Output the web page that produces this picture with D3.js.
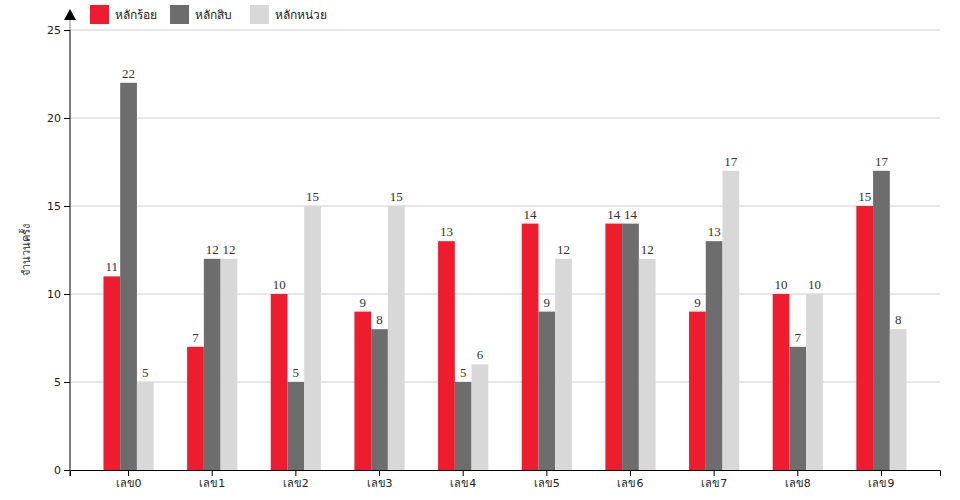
<!DOCTYPE html>
<html><head><meta charset="utf-8">
<script src="https://cdn.jsdelivr.net/npm/d3@7"></script>
<style>body{margin:0;background:#fff}svg{display:block}</style>
</head><body><svg id="c" width="960" height="500"></svg>
<script>
const categories = ["เลข0","เลข1","เลข2","เลข3","เลข4","เลข5","เลข6","เลข7","เลข8","เลข9"];
const seriesNames = ["หลักร้อย","หลักสิบ","หลักหน่วย"];
const hundreds = [11,7,10,9,13,14,14,9,10,15];
const tens = [22,12,5,8,5,9,14,13,7,17];
const units = [5,12,15,15,6,12,12,17,10,8];
const yTicks = [0,5,10,15,20,25];
const colors = ["#ed1c2e","#6d6d6d","#d8d8d8"];
const series = [hundreds, tens, units];

const svg = d3.select("#c");
const m = {l:70, r:940, t:30, b:470};
const x = d3.scaleBand().domain(categories).range([m.l, m.r]).padding(0.4);
const xs = d3.scaleBand().domain(d3.range(3)).range([0, x.bandwidth()]);
const y = d3.scaleLinear().domain([0,25]).range([m.b, m.t]);

// grid
svg.append("g").selectAll("line").data(yTicks.filter(d=>d>0)).join("line")
  .attr("x1", m.l).attr("x2", m.r).attr("y1", d=>y(d)).attr("y2", d=>y(d))
  .attr("stroke", "#d0d0d0").attr("stroke-width", 1);

// bars
const g = svg.append("g");
series.forEach((vals, si) => {
  g.append("g").selectAll("rect").data(vals).join("rect")
    .attr("x", (d,i)=>x(categories[i]) + xs(si))
    .attr("y", d=>y(d)).attr("width", xs.bandwidth()).attr("height", d=>y(0)-y(d))
    .attr("fill", colors[si]);
  g.append("g").selectAll("text").data(vals).join("text")
    .attr("x", (d,i)=>x(categories[i]) + xs(si) + xs.bandwidth()/2)
    .attr("y", d=>y(d)-5).attr("text-anchor","middle")
    .attr("font-family","Liberation Serif, serif").attr("font-size",13).attr("fill","#333")
    .text(d=>d);
});

// y axis
const ya = svg.append("g").attr("transform",`translate(${m.l},0)`)
  .call(d3.axisLeft(y).tickValues(yTicks).tickSize(6).tickSizeOuter(0));
ya.select(".domain").remove();
ya.selectAll("text").attr("font-family","DejaVu Sans, sans-serif").attr("font-size",11).attr("fill","#222");
svg.append("line").attr("x1",m.l).attr("x2",m.l).attr("y1",m.b+6).attr("y2",m.t).attr("stroke","#000");
svg.append("line").attr("x1",m.l).attr("x2",m.l).attr("y1",m.t).attr("y2",18).attr("stroke","#888");
svg.append("path").attr("d",`M${m.l-6},20 L${m.l+6},20 L${m.l},9 Z`).attr("fill","#000");

// x axis
const xa = svg.append("g").attr("transform",`translate(0,${m.b})`)
  .call(d3.axisBottom(x).tickSize(6).tickSizeOuter(6));
xa.select(".domain").attr("stroke","#000");
xa.selectAll("text").attr("font-family","DejaVu Sans, sans-serif").attr("font-size",11).attr("fill","#222");

// y label
svg.append("text").attr("transform",`translate(30,${(m.t+m.b)/2}) rotate(-90)`)
  .attr("text-anchor","middle").attr("font-family","DejaVu Sans, sans-serif").attr("font-size",11).attr("fill","#333")
  .text("จำนวนครั้ง");

// legend
const lg = svg.append("g");
const lx = [90, 170, 250];
seriesNames.forEach((n,i)=>{
  lg.append("rect").attr("x",lx[i]).attr("y",5).attr("width",19).attr("height",19).attr("fill",colors[i]);
  lg.append("text").attr("x",lx[i]+25).attr("y",19).attr("font-family","DejaVu Sans, sans-serif").attr("font-size",12).attr("fill","#222").text(n);
});
</script></body></html>
